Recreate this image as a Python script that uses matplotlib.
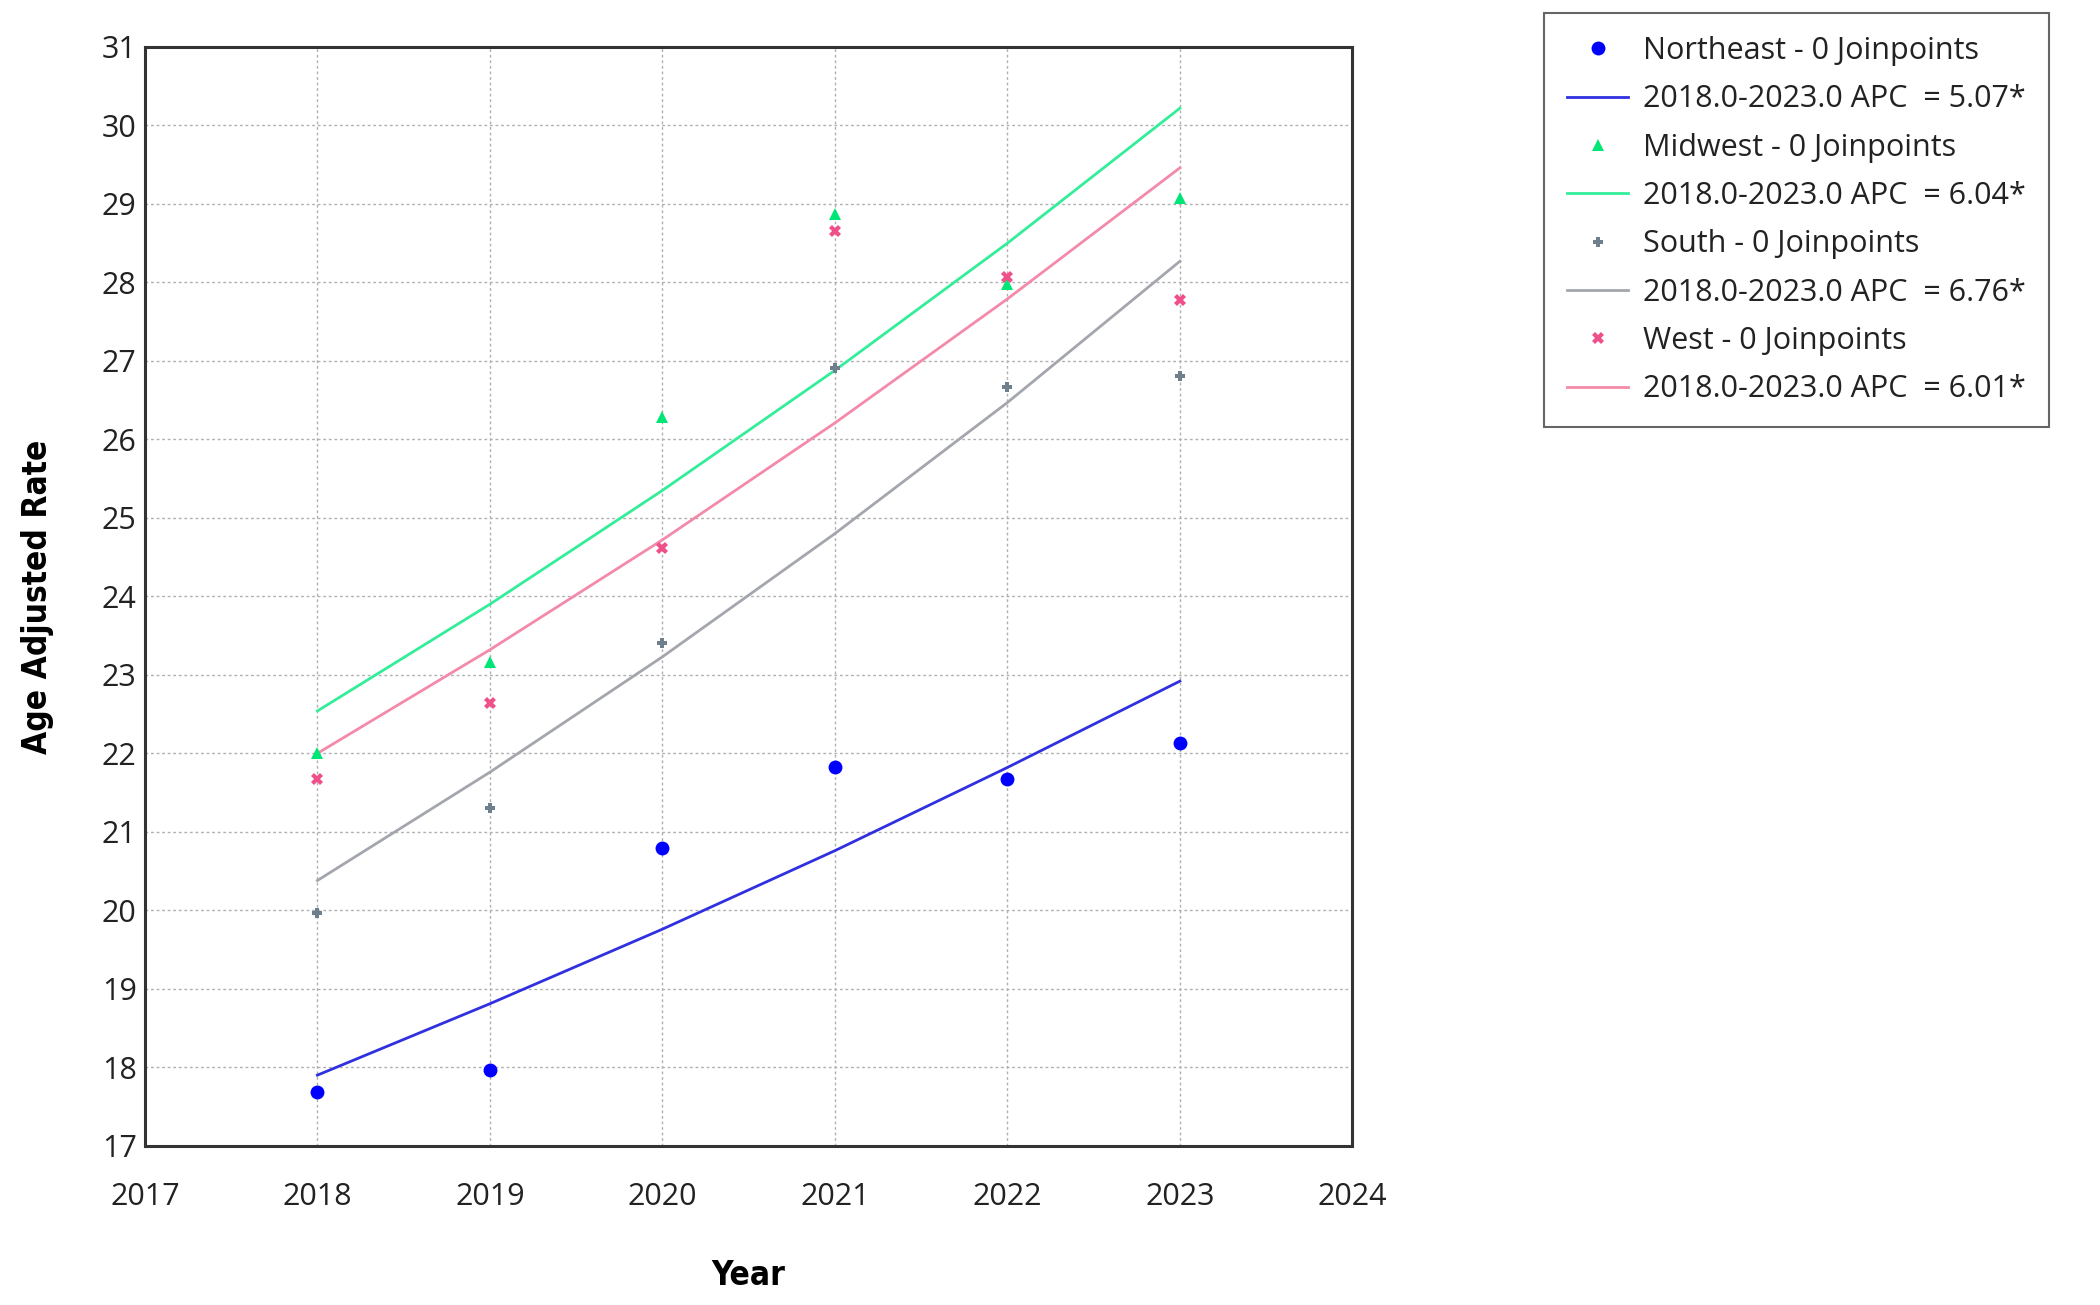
import matplotlib
matplotlib.use("Agg")
import matplotlib.pyplot as plt
from matplotlib.lines import Line2D

years = [2018, 2019, 2020, 2021, 2022, 2023]

northeast_obs = [17.68, 17.97, 20.79, 21.83, 21.67, 22.13]
midwest_obs = [22.01, 23.17, 26.28, 28.87, 27.98, 29.07]
south_obs = [19.97, 21.30, 23.41, 26.91, 26.67, 26.81]
west_obs = [21.67, 22.64, 24.62, 28.66, 28.07, 27.78]

northeast_fit = [17.90, 18.81, 19.76, 20.76, 21.82, 22.92]
midwest_fit = [22.54, 23.90, 25.35, 26.88, 28.50, 30.22]
south_fit = [20.38, 21.76, 23.23, 24.80, 26.47, 28.27]
west_fit = [22.00, 23.32, 24.72, 26.21, 27.79, 29.46]

series_names = ["Northeast", "Midwest", "South", "West"]
apc_values = ["5.07", "6.04", "6.76", "6.01"]
x_ticks = [2017, 2018, 2019, 2020, 2021, 2022, 2023, 2024]
y_ticks = list(range(17, 32))

plt.rcParams['font.family'] = ['Open Sans', 'DejaVu Sans']

fig = plt.figure(figsize=(21, 13.05), dpi=100)
ax = fig.add_axes([0.069, 0.122, 0.575, 0.842])

styles = [
    dict(mc="#0000ff", lc="#3030e0", marker="o", ms=10),
    dict(mc="#00e676", lc="#33ee99", marker="^", ms=9),
    dict(mc="#6e7f8e", lc="#a4a6ae", marker="P", ms=7),
    dict(mc="#f0508a", lc="#f48aaa", marker="X", ms=8),
]
obs = [northeast_obs, midwest_obs, south_obs, west_obs]
fits = [northeast_fit, midwest_fit, south_fit, west_fit]

handles = []
labels = []
for name, apc, o, f, st in zip(series_names, apc_values, obs, fits, styles):
    ax.plot(years, f, color=st["lc"], lw=2.0, zorder=3)
    ax.plot(years, o, linestyle="none", marker=st["marker"], color=st["mc"],
            ms=st["ms"], markeredgewidth=0, zorder=4)
    handles.append(Line2D([], [], linestyle="none", marker=st["marker"], color=st["mc"],
                          ms=st["ms"], markeredgewidth=0))
    labels.append(f"{name} - 0 Joinpoints")
    handles.append(Line2D([], [], color=st["lc"], lw=2.0))
    labels.append("2018.0-2023.0 APC  = " + apc + "*")

ax.set_xlim(2017, 2024)
ax.set_ylim(17, 31)
ax.set_xticks(x_ticks)
ax.set_yticks(y_ticks)
ax.grid(True, color="#b0b0b0", linestyle=(0, (2, 2)), linewidth=1.0)
ax.set_axisbelow(True)
ax.tick_params(axis="both", length=0, labelsize=22, colors="#222222")
ax.tick_params(axis="x", pad=26)
ax.tick_params(axis="y", pad=6)
for sp in ax.spines.values():
    sp.set_color("#333333")
    sp.set_linewidth(2.2)

ax.set_xlabel("Year", fontsize=24, fontweight="bold", fontstretch="condensed",
              family=["DejaVu Sans"], labelpad=34)
ax.set_ylabel("Age Adjusted Rate", fontsize=24, fontweight="bold", fontstretch="condensed",
              family=["DejaVu Sans"], labelpad=34)

leg = fig.legend(handles, labels, loc="upper left", bbox_to_anchor=(0.7353, 0.990),
                 borderaxespad=0, fontsize=22, numpoints=1, handlelength=2.0,
                 handletextpad=0.5, labelspacing=0.6, borderpad=0.75, fancybox=False,
                 framealpha=1, edgecolor="#666666")
leg.get_frame().set_linewidth(1.5)
for t in leg.get_texts():
    t.set_color("#222222")

fig.savefig("out.png", dpi=100)
